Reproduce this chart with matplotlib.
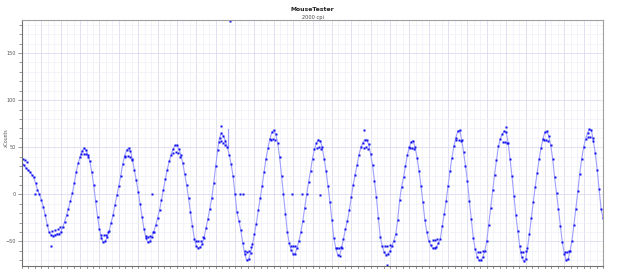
import numpy as np
import matplotlib
matplotlib.use("Agg")
import matplotlib.pyplot as plt
from matplotlib.ticker import MultipleLocator

# main trace: one report every 10 ms, xCounts
sample_ms = 10
counts = [
    32, 31, 28, 26, 24, 21, 18, 12, 5, 0,
    -6, -13, -22, -32, -40, -43, -44, -43, -42, -42,
    -40, -35, -29, -22, -15, -7, 1, 12, 24, 33,
    40, 46, 49, 47, 42, 35, 24, 10, -7, -24,
    -37, -46, -51, -50, -45, -39, -30, -22, -11, -1,
    9, 20, 32, 41, 47, 49, 46, 37, 26, 15,
    3, -10, -24, -37, -46, -51, -50, -45, -40, -33,
    -25, -17, -6, 5, 16, 26, 35, 42, 48, 52,
    52, 48, 42, 33, 22, 10, -4, -19, -34, -47,
    -55, -57, -56, -53, -46, -36, -26, -15, -4, 12,
    30, 47, 60, 65, 62, 57, 50, 42, 32, 19,
    0, -19, -28, -38, -52, -63, -70, -69, -62, -53,
    -42, -31, -17, -4, 9, 24, 38, 49, 59, 66,
    68, 64, 55, 40, 20, 0, -21, -40, -52, -59,
    -63, -63, -57, -49, -40, -28, -14, 0, 13, 25,
    38, 48, 54, 58, 57, 50, 38, 25, 9, -8,
    -27, -46, -57, -64, -65, -57, -47, -37, -28, -17,
    -3, 10, 21, 31, 42, 50, 55, 58, 58, 53,
    43, 31, 14, -3, -25, -45, -55, -61, -64, -63,
    -60, -55, -49, -42, -27, -6, 8, 18, 30, 42,
    50, 56, 57, 50, 39, 25, 9, -8, -27, -40,
    -49, -54, -57, -57, -56, -52, -47, -34, -21, -7,
    9, 25, 39, 51, 60, 67, 68, 58, 45, 30,
    14, -7, -26, -46, -58, -66, -70, -70, -66, -60,
    -49, -32, -14, 5, 21, 36, 51, 59, 64, 67,
    66, 55, 38, 19, -2, -22, -39, -55, -66, -71,
    -69, -57, -42, -25, -8, 8, 23, 37, 49, 59,
    66, 67, 62, 52, 38, 18, 1, -16, -34, -51,
    -63, -70, -69, -60, -49, -32, -15, 4, 22, 38,
    50, 59, 65, 69, 68, 57, 44, 26, 6, -15,
    -25,
]
time_ms = np.arange(len(counts)) * sample_ms

# second row of reports near the turning points
band_ms = [5, 15, 25, 155, 170, 185, 198, 306, 318, 330, 340, 410, 422, 434, 446,
           534, 546, 558, 568, 638, 650, 662, 674, 782, 794, 806, 816,
           898, 910, 922, 934, 1016, 1028, 1040, 1050, 1150, 1162, 1174, 1184,
           1284, 1296, 1308, 1388, 1400, 1412, 1522, 1534, 1546, 1624, 1636, 1648,
           1764, 1776, 1788, 1874, 1886, 1898, 2002, 2014, 2026, 2120, 2132, 2144,
           2242, 2254, 2266, 2354, 2366, 2378, 2482, 2494, 2506, 2576, 2588, 2600,
           2694, 2706, 2718, 2802, 2814, 2826, 2922, 2934, 2946]
band_counts = [38, 36, 34, -39, -38, -37, -35, 43, 43, 43, 40, -43, -43, -43, -40,
               40, 41, 40, 36, -44, -45, -44, -40, 44, 45, 44, 40,
               -49, -49, -49, -45, 56, 57, 55, 52, -60, -61, -60, -56,
               58, 59, 58, -55, -55, -55, 49, 50, 48, -57, -57, -56,
               49, 50, 48, -55, -55, -54, 49, 49, 48, -48, -48, -47,
               58, 58, 57, -61, -61, -60, 56, 56, 55, -61, -61, -60,
               58, 58, 57, -61, -61, -60, 61, 61, 60]

# stray reports
odd_ms = [67, 151, 671, 1028, 1072, 1126, 1140, 1394, 1446, 1538, 1768, 1885, 2497]
odd_counts = [0, -55, 0, 73, 184, 0, 0, 0, 0, -1, 68, -75, 71]

spike_ms = [1065, 1065]
spike_counts = [49, 69]

fig = plt.figure(figsize=(6.42, 2.69), dpi=100)
ax = fig.add_axes([22 / 642, 3 / 269, 581 / 642, 246 / 269])

ax.set_xlim(0, 3000)
ax.set_ylim(-76, 185)

ax.xaxis.set_major_locator(MultipleLocator(100))
ax.xaxis.set_minor_locator(MultipleLocator(100 / 3))
ax.yaxis.set_major_locator(MultipleLocator(50))
ax.yaxis.set_minor_locator(MultipleLocator(10))
ax.grid(which='major', color='#dcdcf0', lw=0.6)
ax.grid(which='minor', color='#eeeef8', lw=0.5)
ax.set_axisbelow(True)

ax.plot(time_ms, counts, color='#a0a0ff', lw=0.8)
ax.plot(spike_ms, spike_counts, color='#a0a0ff', lw=0.8)
ax.plot(time_ms, counts, 's', ms=1.6, color='#1010ee', mec='none')
ax.plot(band_ms, band_counts, 's', ms=1.6, color='#1010ee', mec='none')
ax.plot(odd_ms, odd_counts, 's', ms=1.6, color='#1010ee', mec='none', clip_on=False)

for s in ['top', 'right']:
    ax.spines[s].set_color('#a0a0a0')
for s in ['left', 'bottom']:
    ax.spines[s].set_color('#707070')
for s in ax.spines.values():
    s.set_linewidth(0.8)

ax.tick_params(axis='y', which='major', length=3, width=0.5, color='#707070',
               labelsize=3.5, labelcolor='#555555', pad=1.5)
ax.tick_params(axis='y', which='minor', length=2, width=0.5, color='#707070')
ax.tick_params(axis='x', which='both', length=2, width=0.5, color='#707070',
               labelbottom=False)

ax.set_ylabel('xCounts', fontsize=3.3, color='#555555')
ax.yaxis.set_label_coords(-0.022, 0.52)

fig.text(0.487, 0.975, 'MouseTester', ha='center', va='top', fontsize=4.4,
         fontweight='bold', color='#222222')
fig.text(0.487, 0.945, '2000 cpi', ha='center', va='top', fontsize=3.6,
         color='#444444')

fig.savefig('out.png', dpi=100)
